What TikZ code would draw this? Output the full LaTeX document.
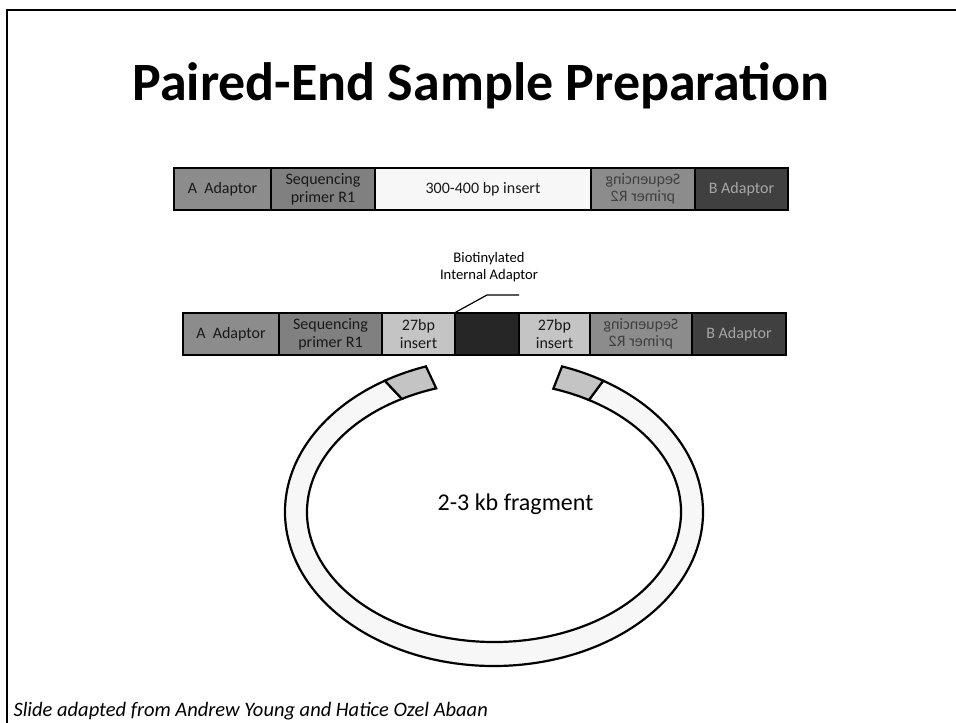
\documentclass[tikz,border=0pt]{standalone}
\usepackage{fontspec}
\setmainfont{Carlito}
\usepackage{tikz}
\usetikzlibrary{calc}

\definecolor{adaptA}{HTML}{8C8C8C}
\definecolor{primer}{HTML}{808080}
\definecolor{longins}{HTML}{F7F7F7}
\definecolor{shortins}{HTML}{C4C4C4}
\definecolor{biotin}{HTML}{262626}
\definecolor{adaptB}{HTML}{404040}
\newcommand{\flip}[1]{\scalebox{-1}[1]{\shortstack{#1}}}

\tikzset{
  seg/.style={draw, line width=1.6pt, minimum height=42pt, inner sep=0pt,
    align=center, text=black!90, font=\fontsize{16}{18}\selectfont},
  ring/.style={draw, line width=2.2pt, line join=miter}
}

\begin{document}
\begin{tikzpicture}[x=1pt, y=-1pt]
\useasboundingbox (0,0) rectangle (956,723);
\coordinate (fnw) at (7,10);
\coordinate (fne) at (956,10);
\coordinate (fsw) at (7,723);
\draw[line width=2.6pt] (fne) -- (fnw) -- (fsw);
\node[anchor=base] (title) at (481,100) {\fontsize{54}{64}\selectfont\bfseries Paired-End Sample Preparation};

\node[seg, fill=adaptA, minimum width=97pt] (a1) at (222.5,189) {A\ \ Adaptor};
\node[seg, fill=primer, minimum width=104pt] (p1) at (323,189) {Sequencing\\primer R1};
\node[seg, fill=longins, minimum width=216pt] (ins) at (483,189) {300-400 bp insert};
\node[seg, fill=adaptA, minimum width=104pt, text=black!75] (q1) at (643,189) {\flip{Sequencing\\primer R2}};
\node[seg, fill=adaptB, minimum width=93pt, text=black!35] (b1) at (741.5,189) {B Adaptor};

\node[seg, fill=adaptA, minimum width=96pt] (a2) at (231,334) {A\ \ Adaptor};
\node[seg, fill=primer, minimum width=103pt] (p2) at (330.5,334) {Sequencing\\primer R1};
\node[seg, fill=shortins, minimum width=73pt] (i1) at (418.5,334) {27bp\\insert};
\node[seg, fill=biotin, minimum width=64pt] (bio) at (487,334) {};
\node[seg, fill=shortins, minimum width=71pt] (i2) at (554.5,334) {27bp\\insert};
\node[seg, fill=adaptA, minimum width=102pt, text=black!75] (q2) at (641,334) {\flip{Sequencing\\primer R2}};
\node[seg, fill=adaptB, minimum width=94pt, text=black!35] (b2) at (739,334) {B Adaptor};

\node[align=center, font=\fontsize{14.6}{16.5}\selectfont] (biolab) at (489,267) {Biotinylated\\Internal Adaptor};
\coordinate (knee) at (487,295);
\coordinate (lend) at (519,295);
\draw[line width=1.2pt] ([xshift=1.5pt]bio.north west) -- (knee) -- (lend);

\coordinate (ctr) at (494,512);
\draw[ring, fill=longins] ([shift={(301.5:209 and 154)}]ctr) arc[start angle=301.5, end angle=598.5, x radius=209, y radius=154]
  -- ([shift={(600.5:187 and 130)}]ctr) arc[start angle=600.5, end angle=300.5, x radius=187, y radius=130] -- cycle;
\draw[ring, fill=shortins] ([shift={(238.5:209 and 154)}]ctr) arc[start angle=238.5, end angle=251, x radius=209, y radius=154]
  -- ([shift={(252:187 and 130)}]ctr) arc[start angle=252, end angle=240.5, x radius=187, y radius=130] -- cycle;
\draw[ring, fill=shortins] ([shift={(289:209 and 154)}]ctr) arc[start angle=289, end angle=301.5, x radius=209, y radius=154]
  -- ([shift={(300.5:187 and 130)}]ctr) arc[start angle=300.5, end angle=288.5, x radius=187, y radius=130] -- cycle;
\node[anchor=base] (frag) at (515.5,510) {\fontsize{24}{28}\selectfont 2-3 kb fragment};

%\node at (481,40) {};
\node[anchor=base west] (credit) at (10,716) {\fontsize{20.5}{24}\selectfont\itshape Slide adapted from Andrew Young and Hatice Ozel Abaan};
\end{tikzpicture}
\end{document}
